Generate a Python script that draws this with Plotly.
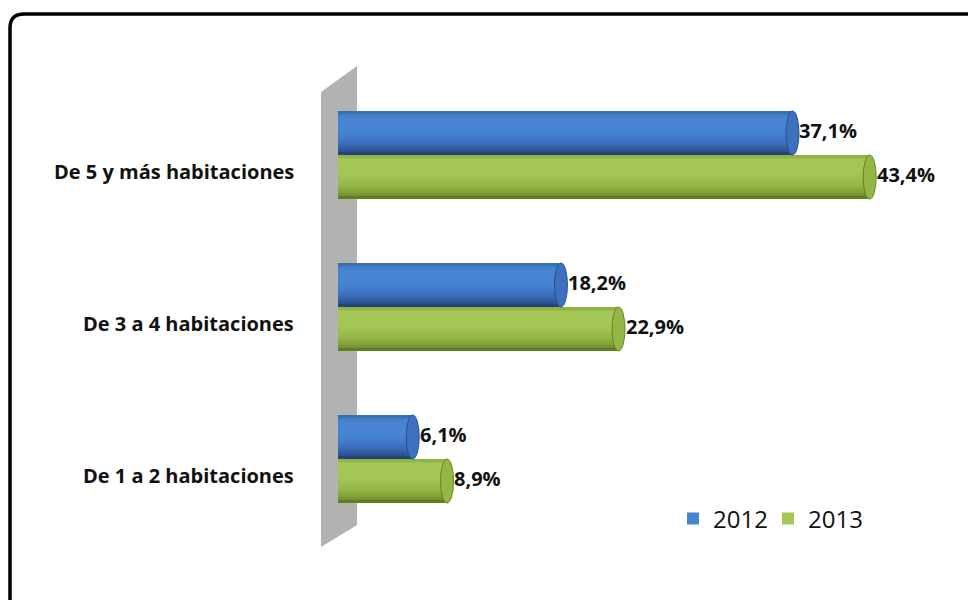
import plotly.graph_objects as go

categories = ["De 1 a 2 habitaciones", "De 3 a 4 habitaciones", "De 5 y más habitaciones"]
values_2012 = [6.1, 18.2, 37.1]
values_2013 = [8.9, 22.9, 43.4]
labels_2012 = ["6,1%", "18,2%", "37,1%"]
labels_2013 = ["8,9%", "22,9%", "43,4%"]

# page has an 8px body margin: work in window pixels and convert
OFF = 8
W_PX, H_PX = 976, 600 - OFF
X0_WIN = 338
SCALE = 12.25  # px per unit
XMAX = (W_PX + OFF - X0_WIN) / SCALE
CAT_PX = 152.0
Y0_WIN = 459.0
YLO, YHI = -0.72, 2.72


def px(x):
    return (x - OFF) / W_PX


def py(y):
    return (H_PX - (y - OFF)) / H_PX


ydom = [py(Y0_WIN + CAT_PX * (-YLO)), py(Y0_WIN - CAT_PX * YHI)]
BW = 44.0 / CAT_PX
ypos = list(range(len(categories)))


def hex2rgb(h):
    h = h.lstrip("#")
    return [int(h[i:i + 2], 16) for i in (0, 2, 4)]


def interp(profile, t):
    for (t0, c0), (t1, c1) in zip(profile, profile[1:]):
        if t0 <= t <= t1:
            f = (t - t0) / (t1 - t0) if t1 > t0 else 0
            a, b = hex2rgb(c0), hex2rgb(c1)
            return "rgb({},{},{})".format(*[round(a[i] + (b[i] - a[i]) * f) for i in range(3)])
    return profile[-1][1]


series = [
    dict(name="2012", vals=values_2012, labels=labels_2012, off=0.0,
         profile=[(0.0, "#35669F"), (0.12, "#4683D2"), (0.45, "#4784D4"), (0.70, "#3E74C2"),
                  (0.88, "#2F5899"), (1.0, "#1F3D70")],
         cap="#3C71BE", edge="#2A4F8C"),
    dict(name="2013", vals=values_2013, labels=labels_2013, off=-BW,
         profile=[(0.0, "#88AA3A"), (0.12, "#A5C958"), (0.45, "#A2C553"), (0.70, "#94B646"),
                  (0.88, "#7C9A33"), (1.0, "#58721C")],
         cap="#94B644", edge="#66822A"),
]

NB = 14
fig = go.Figure()
for s in series:
    for k in range(NB):
        t0, t1 = k / NB, (k + 1) / NB
        leg = (k == 5)
        color = interp(s["profile"], (t0 + t1) / 2)
        # each band spans from its top down to the bar bottom; later bands overwrite -> no seams
        fig.add_trace(go.Bar(
            y=ypos, x=s["vals"], orientation="h",
            base=0, offset=s["off"], width=BW * (1 - t0),
            marker=dict(color=color, line=dict(width=0)),
            name=s["name"], showlegend=leg, hoverinfo="skip",
            legendgroup=s["name"],
        ))

shapes = []
wall = "M {} {} L {} {} L {} {} L {} {} Z".format(
    px(321), py(92), px(357), py(66), px(357), py(525), px(321), py(547))
shapes.append(dict(type="path", xref="paper", yref="paper", path=wall,
                   fillcolor="#B2B2B2", line=dict(width=0), layer="below"))

cap_hw = 6.5 / SCALE
for s in series:
    for yv, v in zip(ypos, s["vals"]):
        y0 = yv + s["off"]
        y1 = y0 + BW
        shapes.append(dict(type="circle", xref="x", yref="y",
                           x0=-cap_hw, x1=cap_hw, y0=y0, y1=y1,
                           fillcolor=interp(s["profile"], 0.4), line=dict(width=0), layer="below"))
        shapes.append(dict(type="circle", xref="x", yref="y",
                           x0=v - cap_hw, x1=v + cap_hw, y0=y0, y1=y1,
                           fillcolor=s["cap"], line=dict(color=s["edge"], width=1), layer="above"))

# rounded border (open at right/bottom, beyond the window)
r = 14
L, T = 10, 14
R, B = 1000, 640
border = "M {l} {b} L {l} {t1} Q {l} {t} {l1} {t} L {r} {t}".format(
    l=px(L), b=py(B), t1=py(T + r), t=py(T), l1=px(L + r), r=px(R))
shapes.append(dict(type="path", xref="paper", yref="paper", path=border,
                   line=dict(color="black", width=3.5), layer="above"))

annotations = []
for yv, c in zip(ypos, categories):
    annotations.append(dict(text="<b>" + c + "</b>", x=px(296), xref="paper", xanchor="right",
                            y=yv, yref="y", yshift=-17, showarrow=False,
                            font=dict(family="Open Sans", size=20, color="#111111")))
for s in series:
    for yv, v, lab in zip(ypos, s["vals"], s["labels"]):
        annotations.append(dict(text="<b>" + lab + "</b>", x=v, xref="x", xanchor="left",
                                xshift=5, yshift=2, y=yv + s["off"] + BW / 2, yref="y",
                                showarrow=False,
                                font=dict(family="Open Sans", size=20, color="#111111")))

fig.update_layout(
    width=W_PX, height=H_PX,
    margin=dict(l=0, r=0, t=0, b=0),
    paper_bgcolor="white", plot_bgcolor="white",
    barmode="overlay",
    xaxis=dict(domain=[px(X0_WIN), 1.0], range=[0, XMAX], visible=False, fixedrange=True),
    yaxis=dict(domain=ydom, range=[YLO, YHI], visible=False, fixedrange=True),
    shapes=shapes,
    annotations=annotations,
    showlegend=True,
    legend=dict(orientation="h", x=px(673), y=py(519), xanchor="left", yanchor="middle",
                font=dict(family="Open Sans", size=24, color="#111111"),
                bgcolor="rgba(0,0,0,0)", entrywidth=50, traceorder="normal"),
)

fig.write_html("out.html")
